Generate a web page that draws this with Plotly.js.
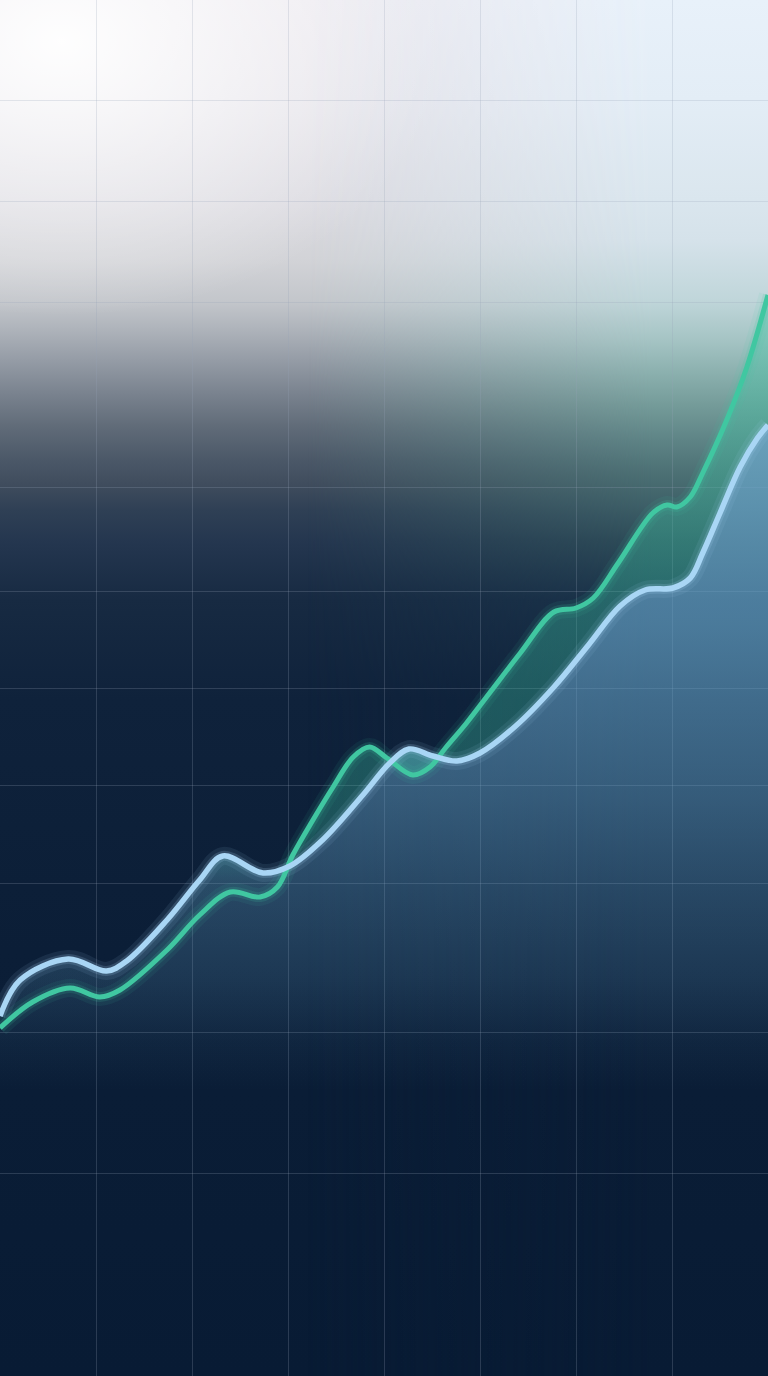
<!DOCTYPE html>
<html>
<head>
<meta charset="utf-8">
<script src="https://cdn.plot.ly/plotly-3.0.1.min.js"></script>
<style>
  html, body { margin: 0; padding: 0; width: 768px; height: 1376px; overflow: hidden; background: #081b34; }
  .layer { position: absolute; left: 0; top: 0; width: 768px; height: 1376px; }
  #bg {
    background:
      radial-gradient(ellipse 50% 20% at 8% 3%, rgba(255,255,255,0.95), rgba(255,255,255,0) 100%),
      linear-gradient(to bottom,
        #ece9ef 0px, #e6e4ea 100px, #dcdbe1 200px, #d2d3d7 260px,
        #c3c6cb 302px, #b0b5bc 327px, #959ca6 360px, #7a838f 393px,
        #606b78 427px, #4b5868 460px, #3f4c5d 485px, #2f4055 510px,
        #24364f 543px, #172a42 600px, #0f223b 700px, #0b1e37 950px, #081b34 1376px);
  }
  #bgRight {
    background: linear-gradient(to bottom,
        #e8f1fa 0px, #e3edf6 100px, #dae6ee 200px, #d5e2ea 240px,
        #c0d6da 300px, #a5c4c4 340px, #8bb0ae 373px, #739a98 407px,
        #5e8486 440px, #4c7074 473px, #3e6068 505px, #2e4d59 540px,
        #1a334a 600px, #0f233c 700px, #0b1e37 950px, #081b34 1376px);
    -webkit-mask-image: linear-gradient(to right, rgba(0,0,0,0) 40%, rgba(0,0,0,1) 85%);
    mask-image: linear-gradient(to right, rgba(0,0,0,0) 40%, rgba(0,0,0,1) 85%);
  }
</style>
</head>
<body>
<div id="bg" class="layer"></div>
<div id="bgRight" class="layer"></div>
<div id="chart" class="layer"></div>
<script>
// Light-blue series
const blueX = [0, 0.21, 0.71, 1.11, 1.32, 1.74, 2.08, 2.32, 2.74, 3.02, 3.36, 3.78, 4.06, 4.26, 4.51, 4.76, 5.00, 5.36, 5.77, 6.13, 6.46, 6.72, 7.01, 7.19, 7.32, 7.50, 7.71, 7.89, 8.00];
const blueY = [3.60, 3.96, 4.17, 4.05, 4.15, 4.56, 4.96, 5.20, 5.03, 5.10, 5.36, 5.81, 6.13, 6.27, 6.20, 6.15, 6.23, 6.49, 6.89, 7.31, 7.70, 7.86, 7.88, 7.98, 8.23, 8.63, 9.09, 9.38, 9.51];

// Green series
const greenX = [0, 0.34, 0.73, 1.04, 1.25, 1.74, 2.08, 2.40, 2.71, 2.89, 3.05, 3.26, 3.47, 3.68, 3.85, 4.03, 4.30, 4.48, 4.64, 4.86, 5.10, 5.42, 5.77, 6.00, 6.18, 6.44, 6.80, 6.95, 7.05, 7.19, 7.32, 7.57, 7.78, 8.00];
const greenY = [3.48, 3.74, 3.88, 3.79, 3.86, 4.26, 4.61, 4.84, 4.79, 4.89, 5.21, 5.56, 5.89, 6.19, 6.29, 6.18, 6.01, 6.09, 6.28, 6.53, 6.83, 7.23, 7.64, 7.68, 7.78, 8.13, 8.63, 8.71, 8.69, 8.79, 9.03, 9.56, 10.09, 10.81];

// Grid positions
const xGrid = [1, 2, 3, 4, 5, 6, 7];
const yGrid = [12.76, 11.75, 10.74, 8.89, 7.85, 6.88, 5.91, 4.93, 3.44, 2.03];

const GREEN = '#40c7a1';
const BLUE = '#a9d6f5';
const SPL = { shape: 'spline', smoothing: 1 };

const traces = [
  { // blue area to the floor
    x: blueX, y: blueY, type: 'scatter', mode: 'lines',
    line: Object.assign({ width: 0, color: 'rgba(0,0,0,0)' }, SPL),
    fill: 'tozeroy',
    fillgradient: { type: 'vertical', colorscale: [
      [0, 'rgba(104,166,204,0)'],
      [0.30, 'rgba(104,166,204,0)'],
      [0.35, 'rgba(104,166,204,0.06)'],
      [0.42, 'rgba(104,166,204,0.19)'],
      [0.51, 'rgba(104,166,204,0.30)'],
      [0.61, 'rgba(104,166,204,0.44)'],
      [0.70, 'rgba(104,166,204,0.54)'],
      [0.79, 'rgba(104,166,204,0.63)'],
      [1, 'rgba(108,170,206,0.72)']
    ]},
    hoverinfo: 'skip'
  },
  { // green band between the lines
    x: greenX, y: greenY, type: 'scatter', mode: 'lines',
    line: Object.assign({ width: 0, color: 'rgba(0,0,0,0)' }, SPL),
    fill: 'tonexty',
    fillgradient: { type: 'vertical', colorscale: [
      [0, 'rgba(60,190,160,0)'],
      [0.2, 'rgba(60,190,160,0.03)'],
      [0.27, 'rgba(60,190,160,0.32)'],
      [0.6, 'rgba(60,190,160,0.38)'],
      [1, 'rgba(70,195,165,0.45)']
    ]},
    hoverinfo: 'skip'
  },
  { x: greenX, y: greenY, type: 'scatter', mode: 'lines',
    line: Object.assign({ width: 18, color: 'rgba(63,198,160,0.08)' }, SPL), hoverinfo: 'skip' },
  { x: blueX, y: blueY, type: 'scatter', mode: 'lines',
    line: Object.assign({ width: 18, color: 'rgba(169,213,244,0.09)' }, SPL), hoverinfo: 'skip' },
  { x: greenX, y: greenY, type: 'scatter', mode: 'lines',
    line: Object.assign({ width: 10, color: 'rgba(63,198,160,0.16)' }, SPL), hoverinfo: 'skip' },
  { x: blueX, y: blueY, type: 'scatter', mode: 'lines',
    line: Object.assign({ width: 10, color: 'rgba(169,213,244,0.18)' }, SPL), hoverinfo: 'skip' },
  { x: greenX, y: greenY, type: 'scatter', mode: 'lines',
    line: Object.assign({ width: 5, color: GREEN }, SPL), hoverinfo: 'skip' },
  { x: blueX, y: blueY, type: 'scatter', mode: 'lines',
    line: Object.assign({ width: 5.5, color: BLUE }, SPL), hoverinfo: 'skip' }
];

const gridStyle = {
  showticklabels: false, ticks: '', showgrid: true,
  gridcolor: 'rgba(150,165,182,0.24)', gridwidth: 1,
  zeroline: false, showline: false, fixedrange: true, tickmode: 'array'
};

const layout = {
  width: 768, height: 1376,
  margin: { l: 0, r: 0, t: 0, b: 0, pad: 0 },
  paper_bgcolor: 'rgba(0,0,0,0)',
  plot_bgcolor: 'rgba(0,0,0,0)',
  showlegend: false,
  xaxis: Object.assign({ range: [0, 8], tickvals: xGrid }, gridStyle),
  yaxis: Object.assign({ range: [0, 13.76], tickvals: yGrid }, gridStyle)
};

Plotly.newPlot('chart', traces, layout, { displayModeBar: false, staticPlot: true });
</script>
</body>
</html>
